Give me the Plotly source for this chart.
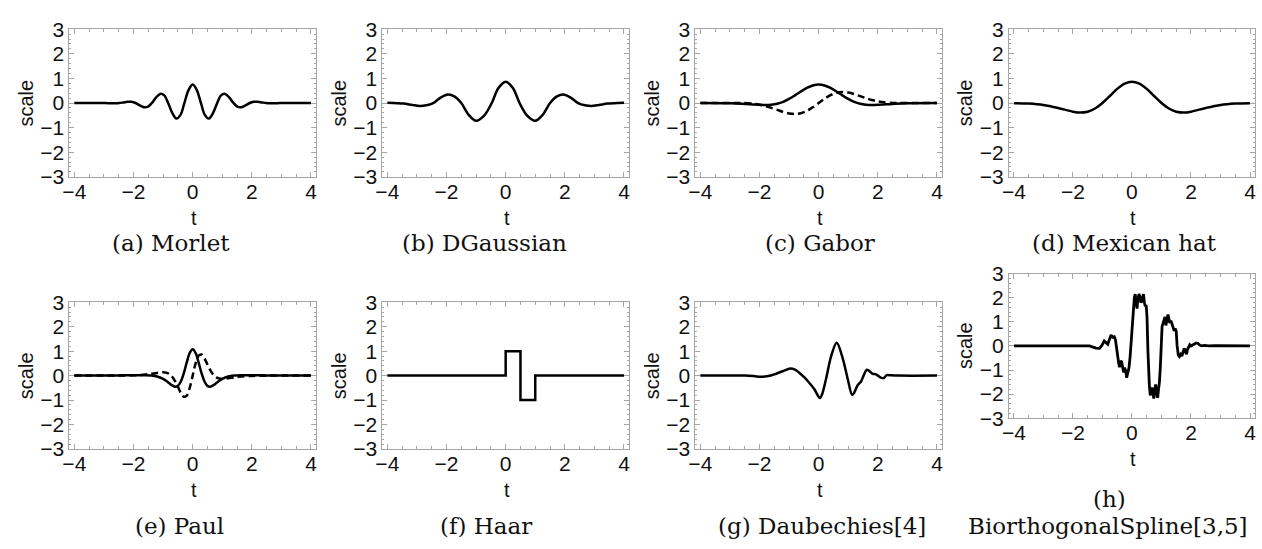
import plotly.graph_objects as go

W, H = 1262, 549

# ---------------- wavelet samples (t, value) ----------------
morlet_t = [-4, -3.03, -2.89, -2.75, -2.61, -2.48, -2.34, -2.2, -2.06, -1.93, -1.79, -1.65,
            -1.51, -1.38, -1.24, -1.1, -0.96, -0.83, -0.69, -0.55, -0.41, -0.28, -0.14, 0,
            0.14, 0.28, 0.41, 0.55, 0.69, 0.83, 0.96, 1.1, 1.24, 1.38, 1.51, 1.65, 1.79,
            1.93, 2.06, 2.2, 2.34, 2.48, 2.61, 2.75, 2.89, 3.03, 4]
morlet_y = [0, 0, -0.006, -0.013, -0.013, 0, 0.025, 0.05, 0.049, 0, -0.092, -0.17,
            -0.148, 0, 0.219, 0.37, 0.311, 0, -0.403, -0.63, -0.481, 0, 0.527, 0.75,
            0.527, 0, -0.481, -0.63, -0.403, 0, 0.311, 0.37, 0.219, 0, -0.148, -0.17, -0.092,
            0, 0.049, 0.05, 0.025, 0, -0.013, -0.013, -0.006, 0, 0]

dgauss_t = [-4, -3.8, -3.45, -3.15, -2.9, -2.68, -2.45, -2.2, -1.95, -1.72, -1.5, -1.25,
            -1.0, -0.72, -0.47, -0.25, 0, 0.25, 0.47, 0.72, 1.0, 1.25, 1.5, 1.72, 1.95,
            2.2, 2.45, 2.68, 2.9, 3.15, 3.45, 3.8, 4]
dgauss_y = [0.01, 0.005, -0.02, -0.08, -0.12, -0.09, 0, 0.22, 0.35, 0.26, 0, -0.48,
            -0.72, -0.5, 0, 0.6, 0.87, 0.6, 0, -0.5, -0.72, -0.48, 0, 0.26, 0.35,
            0.22, 0, -0.09, -0.12, -0.08, -0.02, 0.005, 0.01]

gabor_t = [-4, -3, -2.6, -2.2, -2.0, -1.8, -1.6, -1.4, -1.2, -1.0, -0.8, -0.6, -0.4, -0.2, 0,
           0.2, 0.4, 0.6, 0.8, 1.0, 1.2, 1.4, 1.6, 1.8, 2.0, 2.2, 2.6, 3, 4]
gabor_re = [0, -0.008, -0.025, -0.058, -0.075, -0.083, -0.071, -0.031, 0.047, 0.165, 0.313,
            0.471, 0.614, 0.714, 0.75, 0.714, 0.614, 0.471, 0.313, 0.165, 0.047, -0.031,
            -0.071, -0.083, -0.075, -0.058, -0.025, -0.008, 0]
gabor_im = [0, 0.004, 0, -0.032, -0.068, -0.123, -0.196, -0.28, -0.362, -0.424, -0.446,
            -0.413, -0.32, -0.175, 0, 0.175, 0.32, 0.413, 0.446, 0.424, 0.362, 0.28,
            0.196, 0.123, 0.068, 0.032, 0, -0.004, 0]

mexhat_t = [-4, -3.5, -3, -2.5, -2, -1.75, -1.5, -1.25, -1, -0.75, -0.5, -0.25, 0,
            0.25, 0.5, 0.75, 1, 1.25, 1.5, 1.75, 2, 2.5, 3, 3.5, 4]
mexhat_y = [-0.005, -0.021, -0.077, -0.2, -0.352, -0.387, -0.352, -0.223, 0, 0.286, 0.574,
            0.788, 0.867, 0.788, 0.574, 0.286, 0, -0.223, -0.352, -0.387, -0.352, -0.2,
            -0.077, -0.021, -0.005]

paul_t = [-4, -3, -2.5, -2, -1.6, -1.4, -1.2, -1.0, -0.9, -0.8, -0.7, -0.6, -0.5, -0.4,
          -0.3, -0.2, -0.1, 0, 0.1, 0.2, 0.3, 0.4, 0.5, 0.6, 0.7, 0.8, 0.9, 1.0, 1.2, 1.4,
          1.6, 2, 2.5, 3, 4]
paul_re = [0.001, 0.003, 0.007, 0.014, 0.015, 0.003, -0.038, -0.135, -0.212, -0.305, -0.397,
           -0.453, -0.42, -0.242, 0.099, 0.539, 0.924, 1.079, 0.924, 0.539, 0.099, -0.242,
           -0.42, -0.453, -0.397, -0.305, -0.212, -0.135, -0.038, 0.003, 0.015, 0.014,
           0.007, 0.003, 0.001]
paul_im = [0, 0, 0.002, 0.013, 0.042, 0.072, 0.11, 0.135, 0.122, 0.072, -0.035, -0.213,
           -0.453, -0.704, -0.864, -0.816, -0.503, 0, 0.503, 0.816, 0.864, 0.704, 0.453,
           0.213, 0.035, -0.072, -0.122, -0.135, -0.11, -0.072, -0.042, -0.013, -0.002, 0, 0]

haar_t = [-4, 0, 0.5, 1, 4]
haar_y = [0, 1, -1, 0, 0]

daub_t = [-4, -3, -2.5, -2.2, -1.95, -1.7, -1.5, -1.22, -0.96, -0.8, -0.66, -0.5, -0.37,
          -0.15, 0.04, 0.12, 0.25, 0.42, 0.61, 0.81, 0.98, 1.13, 1.2, 1.32, 1.43, 1.63,
          1.75, 1.83, 1.92, 2.0, 2.1, 2.2, 2.3, 2.45, 2.7, 4]
daub_y = [0, 0, 0, -0.02, -0.05, -0.02, 0.05, 0.18, 0.29, 0.24, 0.12, -0.05, -0.22,
          -0.55, -0.92, -0.75, -0.13, 0.79, 1.34, 0.72, -0.13, -0.79, -0.7, -0.39, -0.24,
          0.24, 0.15, 0.07, 0.06, 0, -0.08, -0.1, 0.02, 0.01, 0, 0]

bior_t = [-4, -1.8, -1.6, -1.44, -1.32, -1.22, -1.1, -1.02, -0.94, -0.88, -0.82, -0.76,
          -0.71, -0.66, -0.6, -0.56, -0.52, -0.49, -0.45, -0.42, -0.38, -0.35, -0.31,
          -0.28, -0.25, -0.21, -0.18, -0.14, -0.1, -0.06, -0.02, 0.02, 0.05, 0.08, 0.11,
          0.14, 0.17, 0.2, 0.24, 0.27, 0.3, 0.33, 0.36, 0.39, 0.42, 0.45, 0.48, 0.51,
          0.54, 0.56, 0.59, 0.62, 0.65, 0.68, 0.71, 0.74, 0.77, 0.8, 0.83, 0.87, 0.9,
          0.93, 0.96, 0.99, 1.02, 1.05, 1.08, 1.12, 1.15, 1.18, 1.22, 1.25, 1.28, 1.32,
          1.35, 1.39, 1.43, 1.47, 1.5, 1.53, 1.57, 1.61, 1.65, 1.69, 1.73, 1.77, 1.81,
          1.85, 1.88, 1.92, 1.96, 2.0, 2.05, 2.1, 2.17, 2.24, 2.3, 2.36, 2.45, 2.6, 2.8, 4]
bior_y = [0, 0, 0.02, 0, -0.05, -0.09, -0.1, 0.02, 0.2, 0.12, 0.07, 0.28,
          0.45, 0.36, 0.38, 0.25, -0.1, -0.5, -0.72, -0.88, -0.62, -0.66, -0.95,
          -1.1, -0.9, -1.05, -1.32, -1.1, -0.9, -0.4, 0.3, 1.2, 1.75, 2.0, 2.15,
          1.9, 1.55, 1.95, 2.15, 2.05, 1.8, 1.85, 2.1, 2.15, 1.8, 1.65, 1.7, 1.2,
          -0.2, -1.2, -1.65, -2.05, -1.95, -1.72, -2.0, -2.18, -1.9, -1.6, -1.9, -2.15, -1.8,
          -1.5, -0.9, 0.2, 0.8, 0.92, 1.1, 1.2, 0.85, 1.0, 1.3, 1.15, 0.95, 1.05,
          0.95, 0.75, 0.63, 0.72, 0.6, 0.0, -0.38, -0.44, -0.35, -0.42, -0.2, -0.1, -0.22,
          -0.35, -0.15, -0.02, 0.05, 0.0, 0.02, 0.07, 0.12, 0.1, 0.03, 0.0, 0.02, 0.0, 0.01, 0]

x_ticks = [-4, -2, 0, 2, 4]
y_ticks = [-3, -2, -1, 0, 1, 2, 3]

# ---------------- panel layout (pixel boxes of each frame) ----------------
panels = [
    dict(x0=62.7, x1=310.7, y0=18, y1=172, caption=["(a) Morlet"], cap_x=[165], cap_y=[241],
         curves=[(morlet_t, morlet_y, "solid", "spline")]),
    dict(x0=377.7, x1=625.7, y0=18, y1=172, caption=["(b) DGaussian"], cap_x=[481], cap_y=[241],
         curves=[(dgauss_t, dgauss_y, "solid", "spline")]),
    dict(x0=692.7, x1=940.7, y0=18, y1=172, caption=["(c) Gabor"], cap_x=[818], cap_y=[241],
         curves=[(gabor_t, gabor_im, "7px,4px", "spline"), (gabor_t, gabor_re, "solid", "spline")]),
    dict(x0=1008.3, x1=1255.7, y0=18, y1=172, caption=["(d) Mexican hat"], cap_x=[1125], cap_y=[241],
         curves=[(mexhat_t, mexhat_y, "solid", "spline")]),
    dict(x0=62.7, x1=310.7, y0=303, y1=456, caption=["(e) Paul"], cap_x=[174], cap_y=[536],
         curves=[(paul_t, paul_im, "7px,4px", "spline"), (paul_t, paul_re, "solid", "spline")]),
    dict(x0=377.7, x1=625.7, y0=303, y1=456, caption=["(f) Haar"], cap_x=[482], cap_y=[536],
         curves=[(haar_t, haar_y, "solid", "hv")]),
    dict(x0=692.7, x1=940.7, y0=303, y1=456, caption=["(g) Daubechies[4]"], cap_x=[820], cap_y=[536],
         curves=[(daub_t, daub_y, "solid", "spline")]),
    dict(x0=1008.3, x1=1255.7, y0=273, y1=424, caption=["(h)", "BiorthogonalSpline[3,5]"],
         cap_x=[1110, 1108], cap_y=[508, 536],
         curves=[(bior_t, bior_y, "solid", "linear")]),
]

FRAME = "#a6a6a6"
TICK_FONT = dict(family="Liberation Sans, Arial, sans-serif", size=21, color="#111111")
LABEL_FONT = dict(family="Liberation Sans, Arial, sans-serif", size=20, color="#111111")
CAP_FONT = dict(family="DejaVu Serif, serif", size=23, color="#111111")

fig = go.Figure()
annotations = []


def px(x):
    return x / W


def py(y):
    return 1 - y / H


for i, p in enumerate(panels, start=1):
    sfx = "" if i == 1 else str(i)
    for (t, v, dash, shape) in p["curves"]:
        fig.add_trace(go.Scatter(
            x=t, y=v, mode="lines", xaxis="x" + sfx, yaxis="y" + sfx,
            line=dict(color="black", width=2.8 if shape == "linear" else 2.5,
                      dash=dash, shape=shape, smoothing=0.9 if shape == "spline" else None),
            showlegend=False, hoverinfo="skip"))

    common = dict(showline=True, linecolor=FRAME, linewidth=1, mirror="ticks",
                  ticks="inside", tickcolor=FRAME, ticklen=5, tickwidth=1,
                  showgrid=False, zeroline=False, tickfont=TICK_FONT)
    fig.layout["xaxis" + sfx] = dict(
        common, domain=[px(p["x0"]), px(p["x1"])], range=[-4.17, 4.16],
        tickvals=x_ticks, anchor="y" + sfx, ticklabelstandoff=-4,
        minor=dict(dtick=0.5, tick0=0, ticks="inside", ticklen=3, tickcolor=FRAME))
    fig.layout["yaxis" + sfx] = dict(
        common, domain=[py(p["y1"]), py(p["y0"])], range=[-3, 3],
        tickvals=y_ticks, anchor="x" + sfx, ticklabelstandoff=0,
        minor=dict(dtick=0.2, tick0=0, ticks="inside", ticklen=2, tickcolor=FRAME))

    xc = (p["x0"] + p["x1"]) / 2 + 1
    yc = (p["y0"] + p["y1"]) / 2
    annotations.append(dict(text="scale", x=px(p["x0"] - 44), y=py(yc), xref="paper", yref="paper",
                            textangle=-90, showarrow=False, font=LABEL_FONT,
                            xanchor="center", yanchor="middle"))
    annotations.append(dict(text="t", x=px(xc), y=py(p["y1"] + 43), xref="paper", yref="paper",
                            showarrow=False, font=LABEL_FONT, xanchor="center", yanchor="middle"))
    for txt, cx, cy in zip(p["caption"], p["cap_x"], p["cap_y"]):
        annotations.append(dict(text=txt, x=px(cx), y=py(cy), xref="paper", yref="paper",
                                showarrow=False, font=CAP_FONT, xanchor="center", yanchor="middle"))

fig.update_layout(width=W, height=H, margin=dict(l=0, r=0, t=0, b=0),
                  paper_bgcolor="white", plot_bgcolor="white",
                  annotations=annotations, showlegend=False)

fig.write_html("out.html")
